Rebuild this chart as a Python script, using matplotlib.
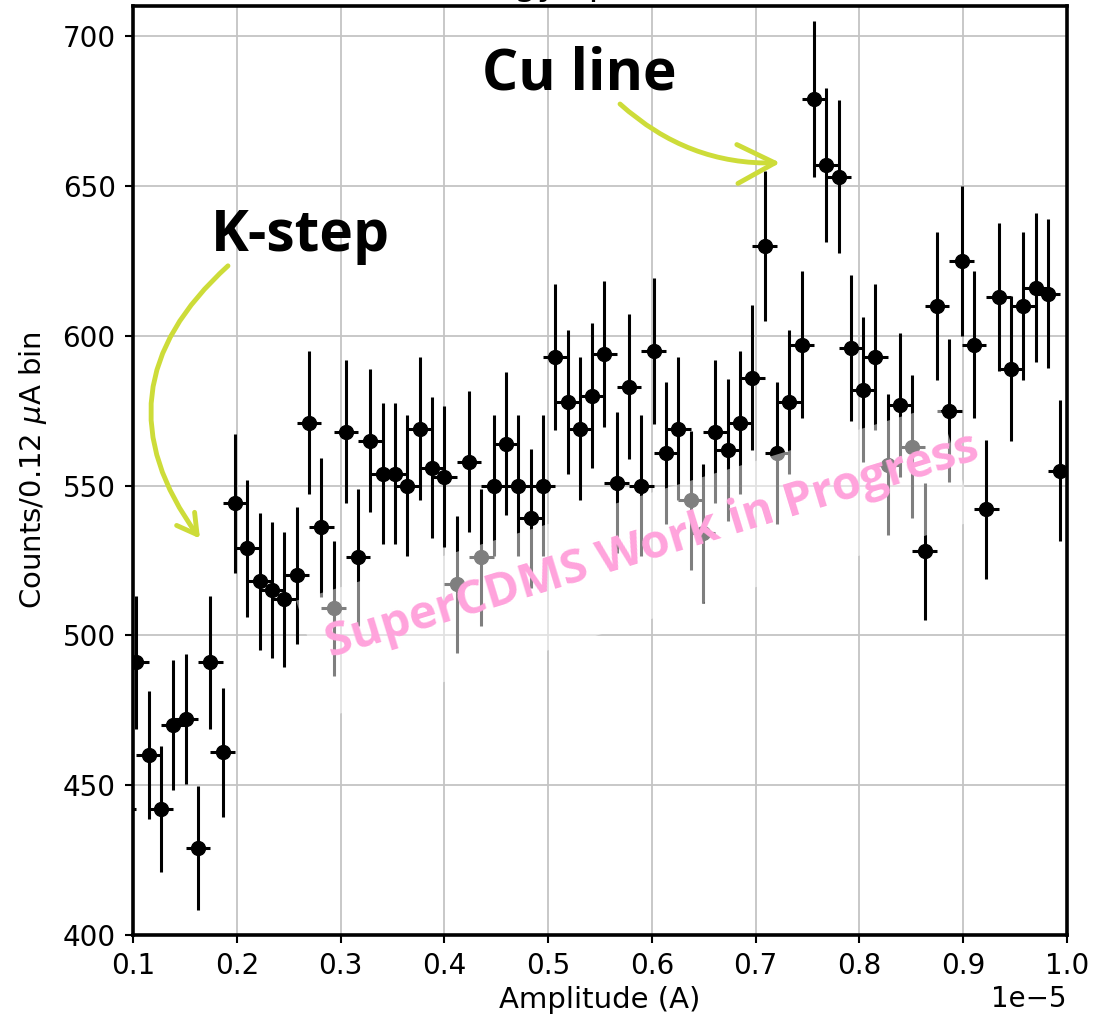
import numpy as np
import matplotlib.pyplot as plt
import matplotlib.ticker as ticker
from matplotlib.patches import Rectangle

#%% data (first bin sits just left of the axis)
counts = [442, 491, 460, 442, 470, 472, 429, 491, 461, 544,
          529, 518, 515, 512, 520, 571, 536, 509, 568, 526,
          565, 554, 554, 550, 569, 556, 553, 517, 558, 526,
          550, 564, 550, 539, 550, 593, 578, 569, 580, 594,
          551, 583, 550, 595, 561, 569, 545, 534, 568, 562,
          571, 586, 630, 561, 578, 597, 679, 657, 653, 596,
          582, 593, 557, 577, 563, 528, 610, 575, 625, 597,
          542, 613, 589, 610, 616, 614, 555]

first_center = 0.0914e-5  # A
bin_w = 0.01187e-5        # A

amp = first_center + bin_w * np.arange(len(counts))
counts = np.array(counts)
yerr = np.sqrt(counts)  # poisson

y_ticks = [400, 450, 500, 550, 600, 650, 700]

green = '#cddc39'
pink = '#ffa3dc'
wm = 'SuperCDMS Work in Progress'
wm_angle = 17

#%% plot
fig = plt.figure(figsize=(10.94, 10.22), dpi=100)
ax = fig.add_axes([0.1216, 0.0851, 0.8537, 0.909])

ax.errorbar(amp, counts, xerr=bin_w, yerr=yerr, fmt='o', color='k',
            ms=10, elinewidth=2.2, capsize=0, zorder=3)

ax.set_xlim(0.1e-5, 1.0e-5)
ax.set_ylim(400, 710)
ax.xaxis.set_major_locator(ticker.MultipleLocator(0.1e-5))
ax.set_yticks(y_ticks)

ax.grid(True, color='#c4c4c4', lw=1.3)
ax.set_axisbelow(True)
for s in ax.spines.values():
    s.set_linewidth(2.6)
ax.tick_params(direction='out', length=5.5, width=1.5, pad=7, labelsize=20)
ax.xaxis.get_offset_text().set_fontsize(20)

ax.set_xlabel('Amplitude (A)', fontsize=21, labelpad=4)
ax.set_ylabel(r'Counts/0.12 $\mu$A bin', fontsize=21, labelpad=10)
# title is cut off by the top edge in the original, only descenders show
ax.set_title('Energy spectrum', fontsize=26, pad=8, x=0.485)

# watermark: white translucent band (axes coords, axes is ~square) + pink text
band_w, band_h = 0.72, 0.13
band_cx, band_cy = 0.538, 0.403
ax.add_patch(Rectangle((band_cx - band_w/2, band_cy - band_h/2), band_w, band_h,
                       angle=wm_angle, rotation_point='center',
                       transform=ax.transAxes, fc='white', ec='none',
                       alpha=0.5, zorder=5))
ax.text(0.6002e-5, 529.7, wm, rotation=wm_angle, rotation_mode='anchor',
        ha='center', va='center', color=pink, fontsize=34,
        fontweight='bold', family='Open Sans', zorder=6)

# hand drawn style annotations
ax.text(0.5298e-5, 682.3, 'Cu line', ha='center', va='baseline',
        fontsize=41, fontweight='bold', family='Open Sans', zorder=7)
ax.text(0.2617e-5, 628.3, 'K-step', ha='center', va='baseline',
        fontsize=41, fontweight='bold', family='Open Sans', zorder=7)

ax.annotate('', xy=(0.7236e-5, 657.7), xytext=(0.5693e-5, 677.3),
            arrowprops=dict(arrowstyle='->,head_length=1.35,head_width=0.7',
                            mutation_scale=20, color=green, lw=3.5,
                            connectionstyle='arc3,rad=0.2',
                            shrinkA=0, shrinkB=0), zorder=7)
ax.annotate('', xy=(0.1645e-5, 532.3), xytext=(0.1915e-5, 623.3),
            arrowprops=dict(arrowstyle='->,head_length=0.7,head_width=0.4',
                            mutation_scale=20, color=green, lw=3.5,
                            connectionstyle='arc3,rad=0.45',
                            shrinkA=0, shrinkB=0), zorder=7)

#%% save
plt.savefig('out.png', dpi=100)
